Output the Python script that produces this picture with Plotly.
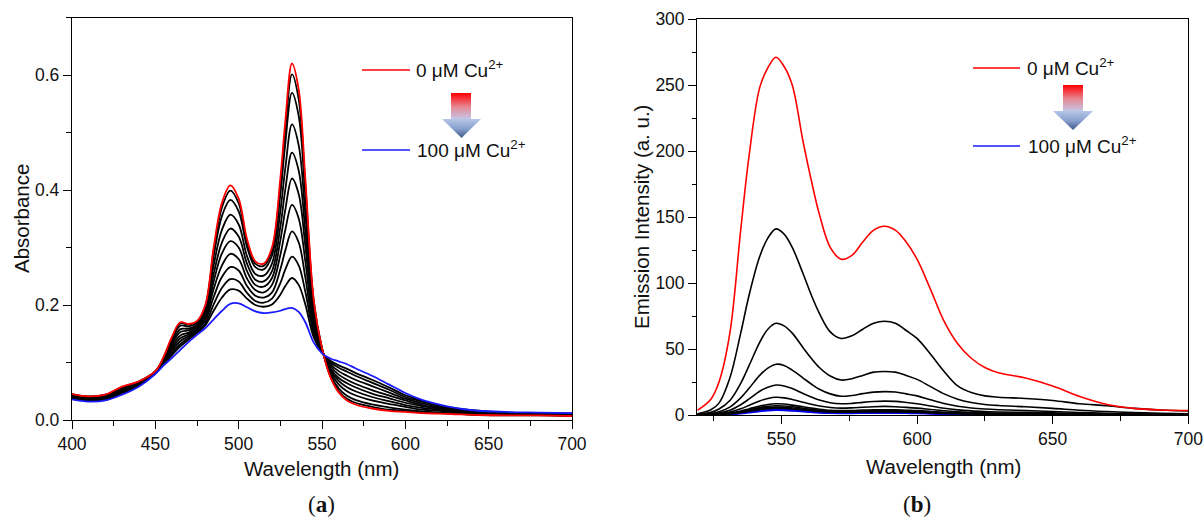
import plotly.graph_objects as go

# ---------------- data: panel (a) absorption ----------------
wl_abs = [400, 410, 420, 430, 440, 450, 455, 460, 465, 470, 475, 480, 485, 490, 495, 500,
          505, 510, 515, 520, 525, 528, 532, 536, 540, 545, 550, 555, 560, 565, 570, 580,
          590, 600, 610, 620, 630, 640, 660, 680, 700]

abs_0uM = [.045, .041, .044, .058, .067, .085, .110, .145, .170, .167, .172, .200, .300, .378, .408, .385,
           .315, .276, .272, .300, .420, .520, .620, .575, .420, .210, .125, .075, .048, .034, .027, .020,
           .016, .014, .012, .011, .010, .009, .008, .008, .007]
abs_t1 = [.045, .041, .044, .057, .067, .085, .109, .143, .168, .166, .171, .198, .294, .370, .399, .377,
          .310, .272, .268, .295, .410, .505, .601, .558, .409, .207, .125, .076, .050, .037, .030, .023,
          .018, .016, .013, .012, .011, .009, .008, .008, .007]
abs_t2 = [.044, .040, .043, .056, .066, .084, .108, .141, .164, .163, .169, .195, .285, .355, .383, .363,
          .301, .266, .262, .286, .392, .481, .569, .529, .390, .201, .124, .079, .055, .042, .035, .027,
          .022, .018, .015, .013, .011, .010, .009, .009, .008]
abs_t3 = [.043, .039, .042, .055, .065, .084, .106, .136, .158, .159, .166, .190, .269, .331, .357, .340,
          .285, .254, .251, .272, .363, .438, .514, .478, .358, .191, .123, .083, .062, .050, .043, .034,
          .028, .023, .018, .016, .013, .011, .010, .009, .008]
abs_t4 = [.042, .038, .040, .053, .064, .083, .105, .132, .153, .156, .163, .185, .254, .309, .333, .319,
          .272, .244, .241, .259, .336, .401, .465, .434, .329, .183, .122, .087, .068, .057, .050, .040,
          .033, .026, .021, .018, .014, .012, .010, .010, .009]
abs_t5 = [.041, .037, .039, .051, .063, .083, .103, .128, .147, .152, .161, .181, .241, .290, .311, .300,
          .259, .235, .232, .247, .312, .366, .420, .393, .303, .175, .121, .090, .073, .064, .057, .046,
          .038, .030, .024, .020, .016, .013, .011, .010, .009]
abs_t6 = [.040, .036, .038, .050, .062, .082, .101, .124, .142, .149, .158, .177, .228, .269, .289, .280,
          .246, .226, .222, .235, .287, .331, .374, .351, .276, .167, .120, .094, .079, .070, .063, .052,
          .043, .034, .026, .021, .017, .014, .011, .011, .010]
abs_t7 = [.039, .035, .037, .048, .061, .082, .100, .120, .137, .146, .156, .173, .214, .249, .266, .260,
          .233, .216, .213, .222, .262, .295, .328, .309, .248, .158, .119, .097, .085, .077, .070, .059,
          .048, .037, .029, .023, .018, .015, .012, .011, .010]
abs_t8 = [.038, .034, .036, .047, .060, .081, .098, .116, .132, .143, .153, .168, .201, .230, .245, .241,
          .221, .207, .204, .211, .238, .262, .284, .269, .223, .151, .118, .100, .091, .084, .077, .065,
          .053, .040, .032, .025, .019, .016, .013, .012, .011]
abs_t9 = [.037, .033, .035, .046, .059, .081, .097, .113, .128, .140, .151, .165, .190, .213, .227, .225,
          .211, .200, .197, .201, .218, .233, .247, .235, .201, .144, .117, .103, .095, .089, .082, .070,
          .057, .043, .034, .026, .020, .017, .013, .012, .011]
abs_100uM = [.036, .032, .034, .044, .058, .080, .095, .108, .122, .136, .148, .160, .175, .190, .202, .203,
             .196, .189, .186, .187, .190, .193, .195, .188, .170, .135, .116, .107, .102, .097, .090, .077,
             .062, .047, .035, .027, .021, .017, .014, .013, .012]

# ---------------- data: panel (b) emission ----------------
wl_em = [519, 524, 527, 531, 535, 538, 542, 545, 548, 551, 554, 558, 561, 564, 568, 572, 576, 580,
         584, 588, 592, 596, 600, 605, 610, 615, 620, 625, 630, 640, 650, 660, 670, 680, 690, 700]

em_0uM = [3.5, 12, 25, 62, 140, 195, 248, 263, 271, 264, 250, 207, 178, 152, 127, 118, 121, 131,
          140, 143, 140, 131, 118, 95, 71, 54, 43, 36, 32, 28, 22, 14, 8, 5, 3.8, 3.3]
em_t1 = [1, 4, 9, 28, 62, 90, 120, 134, 141, 137, 127, 107, 91, 77, 63, 58, 60, 65,
         69.5, 71, 69.5, 64, 58, 46, 33, 22, 17, 14.5, 13.5, 12.5, 11, 8.5, 7, 5, 3.8, 3]
em_t2 = [0.5, 2, 4.5, 11, 24, 37, 55, 65, 69.5, 67.5, 62, 51, 43, 36, 29.5, 26.5, 27.5, 30,
         32.5, 33, 32.5, 30, 27, 21.5, 16, 12, 9.5, 8, 7.2, 6.2, 5, 3.6, 2.6, 1.8, 1.3, 1.0]
em_t3 = [0.3, 1.2, 2.5, 6, 13, 20, 30, 35.5, 38.5, 37.5, 34, 28, 23.5, 19.5, 16, 14.2, 14.8, 16.2,
         17.3, 17.7, 17.4, 16, 14.5, 11.5, 8.7, 6.6, 5.3, 4.5, 4, 3.4, 2.7, 1.9, 1.3, 0.9, 0.7, 0.6]
em_t4 = [0.2, 0.7, 1.5, 3.6, 7.8, 12, 18, 21, 22.7, 22, 20, 16.3, 13.6, 11.3, 9.3, 8.5, 8.8, 9.6,
         10.2, 10.5, 10.3, 9.5, 8.5, 6.8, 5.1, 3.9, 3.1, 2.6, 2.3, 2, 1.6, 1.1, 0.7, 0.5, 0.4, 0.3]
em_t5 = [0.1, 0.4, 0.9, 2.2, 4.7, 7.2, 10.7, 12.5, 13.4, 13, 11.8, 9.7, 8.1, 6.8, 5.7, 5.2, 5.4, 5.9,
         6.3, 6.5, 6.3, 5.8, 5.2, 4.2, 3.2, 2.4, 1.9, 1.6, 1.5, 1.3, 1.0, 0.7, 0.4, 0.3, 0.2, 0.2]
em_t6 = [0.1, 0.3, 0.6, 1.4, 3, 4.6, 6.8, 8, 8.5, 8.3, 7.5, 6.2, 5.2, 4.4, 3.6, 3.3, 3.4, 3.7,
         3.9, 4.0, 3.9, 3.6, 3.3, 2.7, 2.0, 1.6, 1.3, 1.1, 1.0, 0.9, 0.7, 0.5, 0.3, 0.2, 0.2, 0.1]
em_t7 = [0.1, 0.2, 0.5, 1.2, 2.5, 3.8, 5.6, 6.6, 7.0, 6.8, 6.2, 5.1, 4.3, 3.6, 3.0, 2.8, 2.9, 3.1,
         3.25, 3.3, 3.2, 3.0, 2.7, 2.2, 1.7, 1.3, 1.1, 0.9, 0.85, 0.75, 0.6, 0.4, 0.25, 0.15, 0.1, 0.1]
em_t8 = [0.1, 0.2, 0.4, 1.0, 2.1, 3.2, 4.8, 5.6, 6.0, 5.8, 5.3, 4.4, 3.7, 3.1, 2.6, 2.4, 2.5, 2.65,
         2.75, 2.8, 2.75, 2.55, 2.3, 1.9, 1.45, 1.1, 0.9, 0.8, 0.7, 0.65, 0.5, 0.35, 0.2, 0.15, 0.1, 0.1]
em_t9 = [0.1, 0.2, 0.35, 0.9, 1.8, 2.8, 4.1, 4.85, 5.2, 5.05, 4.6, 3.8, 3.2, 2.7, 2.25, 2.1, 2.15, 2.3,
         2.38, 2.4, 2.35, 2.2, 2.0, 1.6, 1.25, 0.95, 0.8, 0.7, 0.6, 0.55, 0.45, 0.3, 0.2, 0.12, 0.1, 0.1]
em_100uM = [0.1, 0.15, 0.3, 0.7, 1.4, 2.2, 3.2, 3.75, 4.0, 3.9, 3.55, 2.95, 2.5, 2.1, 1.8, 1.7, 1.72, 1.82,
            1.88, 1.9, 1.87, 1.75, 1.6, 1.3, 1.0, 0.8, 0.65, 0.55, 0.5, 0.45, 0.35, 0.25, 0.15, 0.1, 0.08, 0.08]

abs_titrations = [abs_t1, abs_t2, abs_t3, abs_t4, abs_t5, abs_t6, abs_t7, abs_t8, abs_t9]
em_titrations = [em_t1, em_t2, em_t3, em_t4, em_t5, em_t6, em_t7, em_t8, em_t9]

legend_top = "0 \u03bcM Cu<sup>2+</sup>"
legend_bottom = "100 \u03bcM Cu<sup>2+</sup>"

# ---------------- figure ----------------
FW, FH = 1204, 521
SANS = "Liberation Sans, Arial, sans-serif"
SERIF = "Liberation Serif, Times New Roman, serif"

def px(x, y):
    return x / FW, 1 - y / FH

fig = go.Figure()

def line_trace(x, y, color, width, xa, ya):
    return go.Scatter(x=x, y=y, mode="lines", xaxis=xa, yaxis=ya, showlegend=False,
                      hoverinfo="skip",
                      line=dict(color=color, width=width, shape="spline", smoothing=1.0))

# panel (a)
for s in abs_titrations:
    fig.add_trace(line_trace(wl_abs, s, "black", 1.8, "x", "y"))
fig.add_trace(line_trace(wl_abs, abs_0uM, "#ff0000", 1.8, "x", "y"))
fig.add_trace(line_trace(wl_abs, abs_100uM, "#1a1aff", 1.8, "x", "y"))

# panel (b)
fig.add_trace(line_trace(wl_em, em_100uM, "#0000ee", 2.8, "x2", "y2"))
for s in em_titrations:
    fig.add_trace(line_trace(wl_em, s, "black", 1.6, "x2", "y2"))
fig.add_trace(line_trace(wl_em, em_0uM, "#ff0000", 1.6, "x2", "y2"))

# gradient arrows on a pixel overlay axis
def arrow(cx_rect_l, cx_rect_r, y_top, y_mid, x_tri_l, x_tri_r, y_tip):
    xm = (x_tri_l + x_tri_r) / 2
    fig.add_trace(go.Scatter(
        x=[cx_rect_l, cx_rect_r, cx_rect_r, cx_rect_l, cx_rect_l],
        y=[FH - y_top, FH - y_top, FH - y_mid, FH - y_mid, FH - y_top],
        mode="lines", line=dict(width=0), fill="toself", xaxis="x3", yaxis="y3",
        fillgradient=dict(type="vertical", start=FH - y_mid, stop=FH - y_top,
                          colorscale=[[0, "#c4c6e6"], [0.45, "#e58a96"], [1, "#ff0000"]]),
        showlegend=False, hoverinfo="skip"))
    fig.add_trace(go.Scatter(
        x=[x_tri_l, x_tri_r, xm, x_tri_l],
        y=[FH - y_mid, FH - y_mid, FH - y_tip, FH - y_mid],
        mode="lines", line=dict(width=0), fill="toself", xaxis="x3", yaxis="y3",
        fillgradient=dict(type="vertical", start=FH - y_tip, stop=FH - y_mid,
                          colorscale=[[0, "#3f5a8c"], [0.5, "#8aa2cf"], [1, "#b4c6e8"]]),
        showlegend=False, hoverinfo="skip"))

arrow(451, 471, 93, 119, 442, 481, 138)
arrow(1063, 1083, 85, 111, 1053, 1093, 130)

# legend lines
shapes = []
for (x0, x1, y, c) in [(362, 410, 70, "#ff0000"), (362, 410, 150, "#1a1aff"),
                       (973, 1020, 68, "#ff0000"), (973, 1020, 146, "#1a1aff")]:
    a0 = px(x0, y)
    a1 = px(x1, y)
    shapes.append(dict(type="line", xref="paper", yref="paper", x0=a0[0], y0=a0[1],
                       x1=a1[0], y1=a1[1], line=dict(color=c, width=1.5)))

annotations = []

def ann(text, x, y, size, xanchor="center", yanchor="middle", angle=0, family=SANS):
    p = px(x, y)
    annotations.append(dict(text=text, x=p[0], y=p[1], xref="paper", yref="paper",
                            showarrow=False, xanchor=xanchor, yanchor=yanchor,
                            textangle=angle, font=dict(family=family, size=size, color="#111")))

ann(legend_top, 414, 69, 19, xanchor="left")
ann(legend_bottom, 415, 149, 19, xanchor="left")
ann(legend_top, 1025, 67, 19, xanchor="left")
ann(legend_bottom, 1026, 145, 19, xanchor="left")

ann("Absorbance", 21, 219, 20.5, angle=-90)
ann("Emission Intensity (a. u.)", 641, 217, 20.5, angle=-90)
ann("Wavelength (nm)", 322, 468, 20.5)
ann("Wavelength (nm)", 943, 466, 20.5)
ann("(<b>a</b>)", 322, 504, 23, family=SERIF)
ann("(<b>b</b>)", 917, 504, 23, family=SERIF)

axis_common = dict(showgrid=False, zeroline=False, showline=True, linecolor="black",
                   linewidth=1.4, mirror=True, ticks="outside", ticklen=8, tickwidth=1.4,
                   tickcolor="black", automargin=False,
                   tickfont=dict(family=SANS, size=17.5, color="#111"))
minor_common = dict(ticklen=4.5, ticks="outside", tickcolor="black", tickwidth=1.3)

lx0, ly0 = px(72, 420)
lx1, ly1 = px(572, 17.5)
rx0, ry0 = px(697.3, 415)
rx1, ry1 = px(1188.3, 19)

fig.update_layout(
    width=FW, height=FH, autosize=False,
    margin=dict(l=0, r=0, t=0, b=0, pad=0),
    paper_bgcolor="white", plot_bgcolor="rgba(0,0,0,0)",
    xaxis=dict(domain=[lx0, lx1], range=[400, 700], dtick=50, tick0=400, anchor="y",
               minor=dict(dtick=25, **minor_common), **axis_common),
    yaxis=dict(domain=[ly0, ly1], range=[0, 0.7], dtick=0.2, tick0=0, tickformat=".1f", anchor="x",
               minor=dict(dtick=0.1, **minor_common), **axis_common),
    xaxis2=dict(domain=[rx0, rx1], range=[519, 700], dtick=50, tick0=400, anchor="y2",
                minor=dict(dtick=25, **minor_common), **axis_common),
    yaxis2=dict(domain=[ry0, ry1], range=[0, 300], dtick=50, tick0=0, anchor="x2",
                minor=dict(dtick=25, **minor_common), **axis_common),
    xaxis3=dict(domain=[0, 1], range=[0, FW], visible=False, anchor="y3", fixedrange=True,
                automargin=False),
    yaxis3=dict(domain=[0, 1], range=[0, FH], visible=False, anchor="x3", fixedrange=True,
                automargin=False),
    shapes=shapes,
    annotations=annotations,
)

fig.write_html("out.html", config={"displayModeBar": False},
               post_script="document.body.style.margin='0px';")
